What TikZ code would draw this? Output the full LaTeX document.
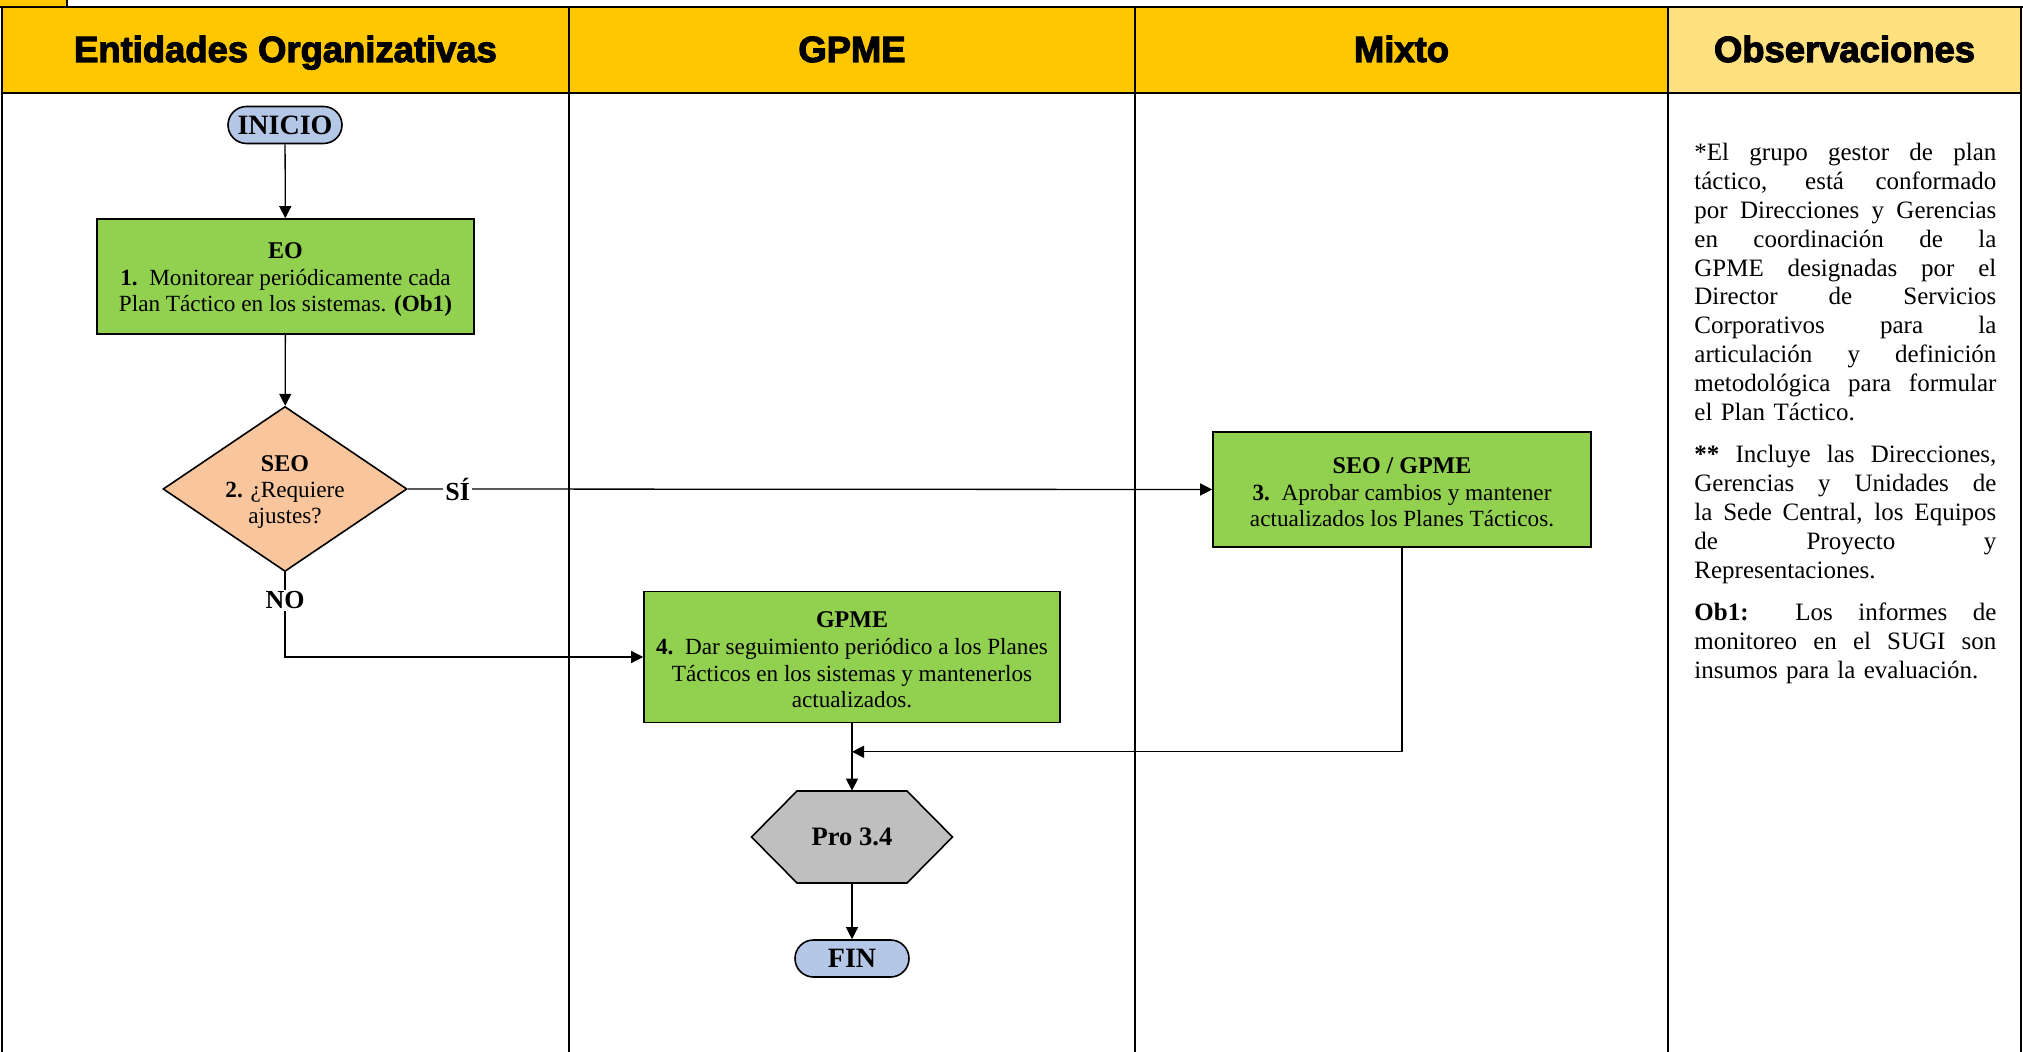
\documentclass[tikz,border=0pt]{standalone}
\usepackage{fontspec}
\setmainfont{Liberation Serif}
\newfontfamily\hdrfont[FakeBold=3]{Liberation Sans Bold}
\usetikzlibrary{shapes.geometric,arrows.meta,calc}
\definecolor{hdrgold}{HTML}{FFC700}
\definecolor{hdrlight}{HTML}{FFE17F}
\definecolor{boxgreen}{HTML}{92D050}
\definecolor{decpeach}{HTML}{F8C59C}
\definecolor{termblue}{HTML}{B4C7E7}
\definecolor{hexgray}{HTML}{BFBFBF}
\newcommand\jline[1]{\leavevmode\hbox to 151pt{\spaceskip=0pt\xspaceskip=0pt\relax #1}}
\newcommand\topfix{\rule{0pt}{11pt}}
\begin{document}
\begin{tikzpicture}[x=0.5pt,y=-0.5pt,
  tabline/.style={line width=1.2pt},
  hdrtxt/.style={font=\hdrfont\fontsize{18.2pt}{22pt}\selectfont, inner sep=0pt, anchor=base},
  procbox/.style={draw, line width=0.8pt, fill=boxgreen, align=center, inner sep=0pt,
    font=\fontsize{11.6pt}{13.3pt}\selectfont},
  termbox/.style={draw, line width=0.8pt, fill=termblue, rounded corners=9.25pt,
    minimum width=57pt, minimum height=18.5pt, inner sep=0pt,
    font=\bfseries\fontsize{14pt}{16pt}\selectfont},
  decbox/.style={draw, line width=0.8pt, fill=decpeach, diamond, aspect=1.48, inner sep=0pt,
    minimum width=122pt, minimum height=82.5pt, align=center,
    font=\fontsize{11.6pt}{12.8pt}\selectfont},
  arr/.style={line width=0.65pt, -{Triangle[length=6pt,width=6pt]}},
  lbl/.style={fill=white, inner sep=1pt, font=\bfseries\fontsize{13pt}{15pt}\selectfont},
  obstxt/.style={text width=151pt, align=left, inner sep=0pt,
    font=\fontsize{12.5pt}{14.4pt}\selectfont}
]
\useasboundingbox (0,0) rectangle (2023,1052);
% tab and header
\fill[hdrgold] (0,0) rectangle (67,7);
\draw[tabline] (67,0) -- (67,7);
\fill[hdrgold] (2,7) rectangle (1668,93);
\fill[hdrlight] (1668,7) rectangle (2021,93);
\draw[tabline] (0,7) -- (2023,7);
\draw[tabline] (2,93) -- (2021,93);
\foreach \xx in {2,569,1135,1668,2021} {\draw[tabline] (\xx,7) -- (\xx,1052);}
\node[hdrtxt] (h1) at (285.5,62) {Entidades Organizativas};
\node[hdrtxt] (h2) at (852,62) {GPME};
\node[hdrtxt] (h3) at (1401.5,62) {Mixto};
\node[hdrtxt] (h4) at (1844.5,62) {Observaciones};

% nodes
\node[termbox] (inicio) at (285,125) {INICIO};
\node[procbox, minimum width=188.5pt, minimum height=57.5pt] (eo) at (285.5,276.5)
  {\topfix{\bfseries\fontsize{12pt}{13.3pt}\selectfont EO}\\\textbf{1.}\hspace{0.5em}Monitorear periódicamente cada\\Plan Táctico en los sistemas. \textbf{(Ob1)}};
\node[decbox] (seo) at (285,489)
  {\topfix{\bfseries\fontsize{12pt}{12.8pt}\selectfont SEO}\\\textbf{2.} ¿Requiere\\ajustes?};
\node[procbox, minimum width=189pt, minimum height=57.5pt] (mix) at (1402,489.5)
  {\topfix{\bfseries\fontsize{12pt}{13.3pt}\selectfont SEO / GPME}\\\textbf{3.}\hspace{0.5em}Aprobar cambios y mantener\\actualizados los Planes Tácticos.};
\node[procbox, minimum width=208pt, minimum height=65.5pt] (gpme) at (852,657)
  {\topfix{\bfseries\fontsize{12pt}{13.3pt}\selectfont GPME}\\\textbf{4.}\hspace{0.5em}Dar seguimiento periódico a los Planes\\Tácticos en los sistemas y mantenerlos\\actualizados.};
\coordinate (pc) at (852,837);
\draw[line width=0.8pt, fill=hexgray] ($(pc)+(-100.5,0)$) -- ($(pc)+(-55,-46)$) -- ($(pc)+(55,-46)$)
  -- ($(pc)+(100.5,0)$) -- ($(pc)+(55,46)$) -- ($(pc)+(-55,46)$) -- cycle;
\node[minimum width=100.5pt, minimum height=46pt, inner sep=0pt,
  font=\bfseries\fontsize{13.3pt}{15pt}\selectfont] (pro) at (pc) {Pro 3.4};
\node[termbox] (fin) at (852,958.5) {FIN};

% observations
\node[obstxt, anchor=base west] (obs) at (1694,161) {%
\jline{*El grupo gestor de plan}\\
\jline{táctico, está conformado}\\
\jline{por Direcciones y Gerencias}\\
\jline{en coordinación de la}\\
\jline{GPME designadas por el}\\
\jline{Director de Servicios}\\
\jline{Corporativos para la}\\
\jline{articulación y definición}\\
\jline{metodológica para formular}\\
el Plan Táctico.\\[7pt]
\jline{\textbf{**} Incluye las Direcciones,}\\
\jline{Gerencias y Unidades de}\\
\jline{la Sede Central, los Equipos}\\
\jline{de Proyecto y}\\
Representaciones.\\[7pt]
\jline{\textbf{Ob1:} Los informes de}\\
\jline{monitoreo en el SUGI son}\\
insumos para la evaluación.};

% connectors
\draw[arr] (inicio) -- (eo);
\draw[arr] (eo) -- (seo);
\draw[arr] (seo.east) -- node[lbl, pos=0.062] (si) {SÍ} (mix.west);
\draw[arr] (seo.south) |- node[lbl, pos=0.165] (no) {NO} (gpme.west);
\draw[arr] (gpme) -- (pro);
\draw[arr] (mix.south) |- ([yshift=-14.25pt]gpme.south);
\draw[arr] (pro) -- (fin);
\end{tikzpicture}
\end{document}
